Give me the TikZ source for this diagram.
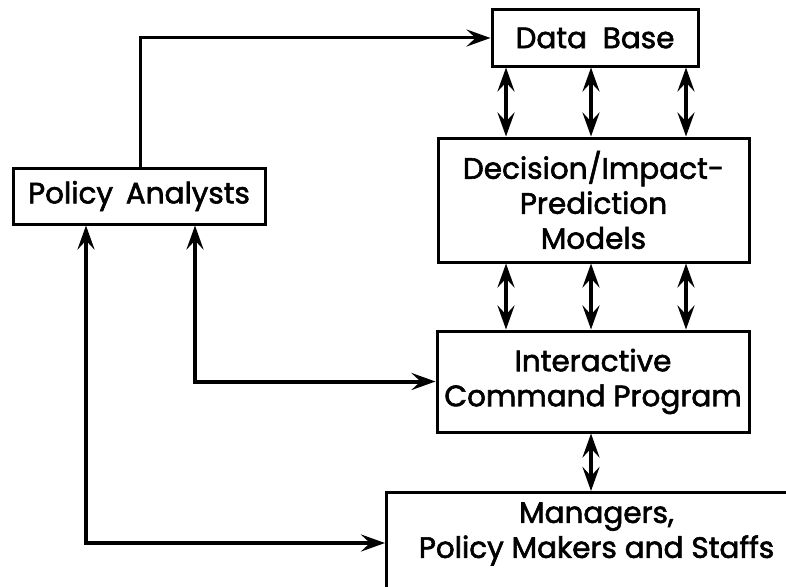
\documentclass[tikz,border=0pt]{standalone}
\usepackage{fontspec}
\setmainfont{Poppins}[FakeBold=2]
\usepackage{tikz}
\usetikzlibrary{arrows.meta}

\tikzset{
  blk/.style={draw=black, line width=3pt, align=center, inner sep=0pt,
    font=\fontsize{29.5}{35}\selectfont},
  lnk/.style={line width=3pt, -{Stealth[length=24pt,width=17pt,inset=9pt]}},
  dbl/.style={line width=4pt, {Stealth[length=24pt,width=17pt,inset=9pt]}-{Stealth[length=24pt,width=17pt,inset=9pt]}}
}

\begin{document}
\begin{tikzpicture}[x=1pt,y=-1pt]
    \useasboundingbox (0,0) rectangle (786,586);
    \clip (0,0) rectangle (786,586);
    \node[blk, minimum width=206pt, minimum height=56pt] (db)  at (595,38)    {Data \ Base};
    \node[blk, minimum width=252pt, minimum height=56pt] (pa)  at (139,196)   {Policy \,Analysts};
    \node[blk, minimum width=311pt, minimum height=124pt] (dec) at (593.5,200) {Decision/Impact-\\Prediction\\Models};
    \node[blk, minimum width=312pt, minimum height=101pt] (icp) at (593,381.5) {Interactive\\Command Program};
    \node[blk, minimum width=420pt, anchor=north west, inner ysep=10pt, text depth=80pt] (mgr) at (385,491) {Managers,\\Policy Makers and Staffs};
    % data base <-> models <-> command program
    \foreach \cx in {506,591,686} {
      \draw[dbl] (\cx,0 |- db.south) -- (\cx,0 |- dec.north);
      \draw[dbl] (\cx,0 |- dec.south) -- (\cx,0 |- icp.north);
    }
    \draw[dbl] (591,0 |- icp.south) -- (591,0 |- mgr.north);
    % analysts
    \draw[lnk] (140,0 |- pa.north) |- (db.west);
    \draw[dbl] (195,0 |- pa.south) |- (icp.west);
    \draw[dbl] (86,0 |- pa.south) |- (mgr.west |- 0,543);
  \end{tikzpicture}
\end{document}
